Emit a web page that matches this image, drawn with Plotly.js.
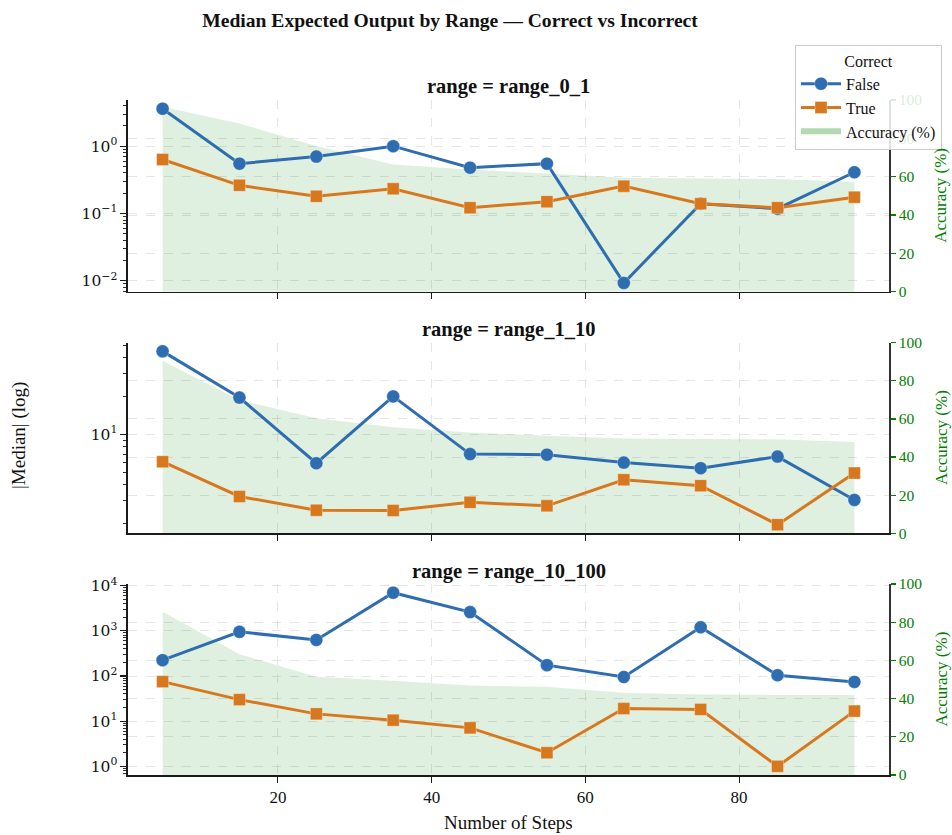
<!DOCTYPE html>
<html>
<head>
<meta charset="utf-8">
<script src="https://cdn.plot.ly/plotly-3.0.1.min.js"></script>
<style>html,body{margin:0;padding:0;background:#fff;}#chart{width:952px;height:835px;}</style>
</head>
<body>
<div id="chart"></div>
<script>
// ---------------- data ----------------
const steps = [5, 15, 25, 35, 45, 55, 65, 75, 85, 95];
const rangeNames = ['range_0_1', 'range_1_10', 'range_10_100'];

const false_r0_1 = [3.6, 0.55, 0.70, 1.0, 0.48, 0.55, 0.0093, 0.14, 0.118, 0.41];
const true_r0_1  = [0.635, 0.262, 0.18, 0.233, 0.122, 0.15, 0.255, 0.14, 0.122, 0.175];
const acc_r0_1   = [96.5, 87.8, 76, 66.4, 63.8, 61.7, 59.5, 59, 58.8, 57.2];

const false_r1_10 = [45, 19.5, 5.93, 19.9, 7.0, 6.93, 6.0, 5.42, 6.69, 3.05];
const true_r1_10  = [6.1, 3.25, 2.53, 2.52, 2.92, 2.74, 4.4, 3.95, 1.95, 4.96];
const acc_r1_10   = [90.5, 69.9, 60.3, 55.6, 52.9, 51.2, 49.8, 49.5, 49.3, 47.9];

const false_r10_100 = [224, 950, 630, 7000, 2600, 174, 95, 1200, 104, 74];
const true_r10_100  = [75, 30, 14.5, 10.5, 7.1, 2.0, 19, 18.2, 1.0, 16.7];
const acc_r10_100   = [85.5, 63.2, 51.5, 49.4, 46.8, 46.2, 43, 42.2, 41.9, 41.9];

const falseSeries = [false_r0_1, false_r1_10, false_r10_100];
const trueSeries  = [true_r0_1, true_r1_10, true_r10_100];
const accSeries   = [acc_r0_1, acc_r1_10, acc_r10_100];

// tick labels per panel (log axis majors)
const logTickVals = [[0.01, 0.1, 1], [10], [1, 10, 100, 1000, 10000]];
const logTickText = [
  ['10<sup>−2</sup>', '10<sup>−1</sup>', '10<sup>0</sup>'],
  ['10<sup>1</sup>'],
  ['10<sup>0</sup>', '10<sup>1</sup>', '10<sup>2</sup>', '10<sup>3</sup>', '10<sup>4</sup>']
];
const accTickVals = [0, 20, 40, 60, 80, 100];
const stepTickVals = [20, 40, 60, 80];

// ---------------- style ----------------
const W = 952, H = 835;
const FONT = 'Liberation Serif, Times New Roman, serif';
const MATH = 'DejaVu Serif, serif';
const BLUE = '#2e6db0';
const ORANGE = '#d8781e';
const GREEN = 'green';
const FILL = 'rgba(0,128,0,0.12)';
const GRID = '#dedede';
const AX = '#1a1a1a';

const xPix = [128, 889];
const panelPix = [[100, 291.7], [342.7, 533.3], [584, 775]];

const px = v => v / W;
const py = v => 1 - v / H;

function logRange(a, b) {
  const vals = a.concat(b).map(v => Math.log10(v));
  const lo = Math.min(...vals), hi = Math.max(...vals);
  const pad = 0.05 * (hi - lo);
  return [lo - pad, hi + pad];
}
function minorVals(r) {
  const out = [];
  for (let d = Math.floor(r[0]) - 1; d <= Math.ceil(r[1]); d++) {
    for (let k = 2; k <= 9; k++) {
      const v = k * Math.pow(10, d);
      const l = Math.log10(v);
      if (l >= r[0] && l <= r[1]) out.push(v);
    }
  }
  return out;
}

const data = [];
const layout = {
  width: W, height: H,
  margin: {l: 0, r: 0, t: 0, b: 0},
  paper_bgcolor: '#fff', plot_bgcolor: 'rgba(0,0,0,0)',
  font: {family: FONT, size: 16, color: '#111'},
  showlegend: true,
  title: {
    text: '<b>Median Expected Output by Range — Correct vs Incorrect</b>',
    x: 450 / W, xanchor: 'center', xref: 'paper',
    y: py(20), yanchor: 'middle', yref: 'paper',
    font: {family: FONT, size: 19.6, color: '#111'}
  },
  legend: {
    x: px(942), xanchor: 'right', y: py(45), yanchor: 'top',
    bgcolor: 'rgba(255,255,255,0.85)', bordercolor: '#cccccc', borderwidth: 1,
    font: {family: FONT, size: 16, color: '#111'},
    title: {text: 'Correct', side: 'top center', font: {family: FONT, size: 16}},
    tracegroupgap: 0, itemwidth: 40
  },
  annotations: [],
  hovermode: false
};

for (let i = 0; i < 3; i++) {
  const n = i + 1;
  const xName = n === 1 ? 'x' : 'x' + n;
  const yAcc = n === 1 ? 'y' : 'y' + n;   // base axis (accuracy, right)
  const yLog = 'y' + (n + 3);              // overlay axis (log, left)
  const [top, bot] = panelPix[i];

  const lr = logRange(falseSeries[i], trueSeries[i]);

  layout[n === 1 ? 'xaxis' : 'xaxis' + n] = {
    domain: [px(xPix[0]), px(xPix[1])],
    anchor: yAcc,
    range: [0.5, 99.5],
    tickvals: stepTickVals,
    showticklabels: i === 2,
    ticks: 'outside', ticklen: 6, tickwidth: 1.2, tickcolor: AX,
    showline: true, linecolor: AX, linewidth: 1.6,
    showgrid: true, gridcolor: GRID, griddash: 'dash', gridwidth: 0.8,
    zeroline: false,
    tickfont: {family: FONT, size: 17, color: '#111'}
  };
  layout[n === 1 ? 'yaxis' : 'yaxis' + n] = {
    domain: [py(bot), py(top)],
    anchor: xName,
    side: 'right',
    range: [0, 100],
    tickvals: accTickVals,
    ticks: 'outside', ticklen: 5, tickwidth: 1.2, tickcolor: GREEN,
    showline: true, linecolor: '#333', linewidth: 1.6,
    showgrid: true, gridcolor: GRID, griddash: 'dash', gridwidth: 0.8,
    zeroline: false,
    tickfont: {family: FONT, size: 15.5, color: GREEN}
  };
  layout['yaxis' + (n + 3)] = {
    overlaying: yAcc,
    anchor: xName,
    side: 'left',
    type: 'log',
    range: lr,
    tickvals: logTickVals[i],
    ticktext: logTickText[i],
    ticks: 'outside', ticklen: 6, tickwidth: 1.2, tickcolor: AX,
    minor: {tickmode: 'array', tickvals: minorVals(lr), ticks: 'outside', ticklen: 3.5, tickwidth: 0.9, tickcolor: AX, showgrid: false},
    showline: true, linecolor: AX, linewidth: 1.6,
    showgrid: true, gridcolor: GRID, griddash: 'dash', gridwidth: 0.8,
    zeroline: false,
    tickfont: {family: MATH, size: 15.5, color: '#111'}
  };

  // accuracy fill (base axis -> drawn beneath)
  data.push({
    type: 'scatter', mode: 'none', x: steps, y: accSeries[i],
    fill: 'tozeroy', fillcolor: FILL,
    xaxis: xName, yaxis: yAcc, showlegend: false, name: 'Accuracy (%)', hoverinfo: 'skip'
  });
  // False
  data.push({
    type: 'scatter', mode: 'lines+markers', x: steps, y: falseSeries[i],
    line: {color: BLUE, width: 3},
    marker: {symbol: 'circle', size: 13, color: BLUE, line: {color: 'rgba(255,255,255,0.4)', width: 0.8}},
    xaxis: xName, yaxis: yLog, name: 'False', legendgroup: 'False', showlegend: i === 0
  });
  // True
  data.push({
    type: 'scatter', mode: 'lines+markers', x: steps, y: trueSeries[i],
    line: {color: ORANGE, width: 3},
    marker: {symbol: 'square', size: 12, color: ORANGE, line: {color: 'rgba(255,255,255,0.4)', width: 0.8}},
    xaxis: xName, yaxis: yLog, name: 'True', legendgroup: 'True', showlegend: i === 0
  });

  // subplot title
  layout.annotations.push({
    text: '<b>range = ' + rangeNames[i] + '</b>',
    xref: 'paper', yref: 'paper', x: px((xPix[0] + xPix[1]) / 2), y: py(top - 13),
    xanchor: 'center', yanchor: 'middle', showarrow: false,
    font: {family: FONT, size: 20.5, color: '#111'}
  });
  // right axis title
  layout.annotations.push({
    text: 'Accuracy (%)', textangle: -90,
    xref: 'paper', yref: 'paper', x: px(941), y: py((top + bot) / 2),
    xanchor: 'center', yanchor: 'middle', showarrow: false,
    font: {family: FONT, size: 17, color: GREEN}
  });
}

// legend-only patch for accuracy
data.push({
  type: 'scatter', mode: 'none', x: [null], y: [null],
  fill: 'toself', fillcolor: 'rgba(0,128,0,0.3)',
  xaxis: 'x', yaxis: 'y', name: 'Accuracy (%)', showlegend: true, hoverinfo: 'skip'
});

layout.annotations.push({
  text: '|Median| (log)', textangle: -90,
  xref: 'paper', yref: 'paper', x: px(19), y: py(436),
  xanchor: 'center', yanchor: 'middle', showarrow: false,
  font: {family: FONT, size: 19, color: '#111'}
});
layout.annotations.push({
  text: 'Number of Steps',
  xref: 'paper', yref: 'paper', x: px(508.5), y: py(822),
  xanchor: 'center', yanchor: 'middle', showarrow: false,
  font: {family: FONT, size: 19, color: '#111'}
});

Plotly.newPlot('chart', data, layout, {displayModeBar: false, staticPlot: true});
</script>
</body>
</html>
